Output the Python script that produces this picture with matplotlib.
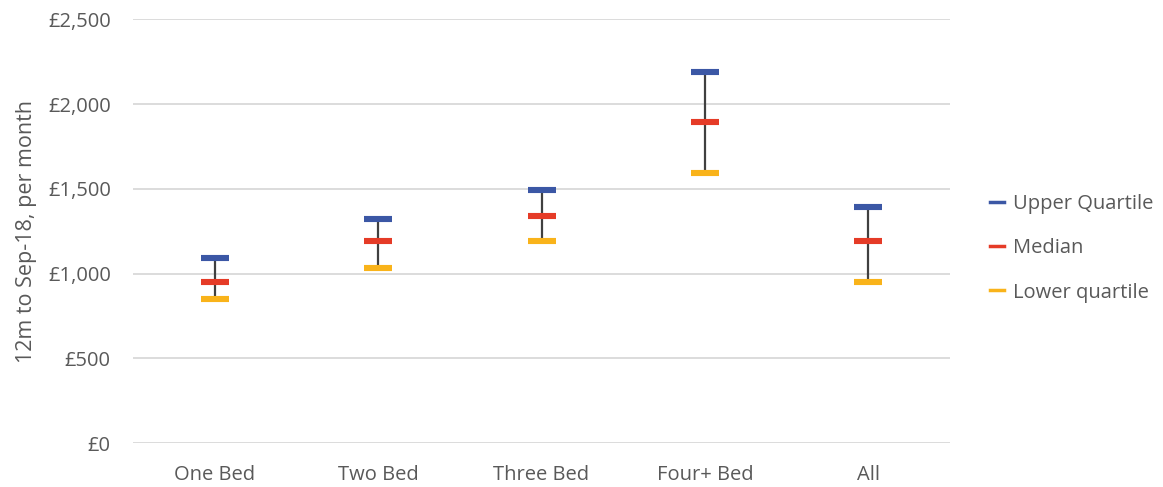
import matplotlib.pyplot as plt
from matplotlib.lines import Line2D
from matplotlib.ticker import FuncFormatter

categories = ['One Bed', 'Two Bed', 'Three Bed', 'Four+ Bed', 'All']
upper_quartile = [1095, 1320, 1495, 2190, 1395]
median = [948, 1195, 1342, 1895, 1190]
lower_quartile = [848, 1036, 1195, 1595, 950]

text_col = '#595959'
plt.rcParams['font.family'] = ['Open Sans', 'DejaVu Sans']

fig = plt.figure(figsize=(11.63, 4.87), dpi=100)
ax = fig.add_axes([0.1144, 0.0903, 0.7025, 0.8697])

x = list(range(len(categories)))

# whiskers from lower to upper quartile
ax.vlines(x, lower_quartile, upper_quartile, color='#404040', linewidth=1.6, zorder=2)

mk = dict(marker='_', markersize=19.5, markeredgewidth=4.4, linestyle='none', zorder=3)
ax.plot(x, upper_quartile, color='#3B57A5', **mk)
ax.plot(x, median, color='#E53B27', **mk)
ax.plot(x, lower_quartile, color='#F9B31A', **mk)

ax.set_xlim(-0.5, len(categories) - 0.5)
ax.set_ylim(0, 2500)
ax.set_yticks(range(0, 2501, 500))
ax.yaxis.set_major_formatter(FuncFormatter(lambda v, p: '£{:,.0f}'.format(v)))
ax.set_xticks(x)
ax.set_xticklabels(categories)
ax.grid(axis='y', color='#d9d9d9', linewidth=1.3, zorder=0)
ax.set_axisbelow(True)
for s in ax.spines.values():
    s.set_visible(False)
ax.tick_params(length=0, labelsize=14.5, colors=text_col)
ax.tick_params(axis='y', pad=16)
ax.tick_params(axis='x', pad=16)
ax.set_ylabel('12m to Sep-18, per month', fontsize=15.5, color=text_col, labelpad=8)

handles = [
    Line2D([0], [0], color='#3B57A5', linewidth=2.5),
    Line2D([0], [0], color='#E53B27', linewidth=2.5),
    Line2D([0], [0], color='#F9B31A', linewidth=2.5),
]
leg = fig.legend(handles, ['Upper Quartile', 'Median', 'Lower quartile'],
                 loc='center left', bbox_to_anchor=(0.836, 0.49), frameon=False,
                 fontsize=14.5, handlelength=0.7, handletextpad=0.4, labelspacing=1.2)
for t in leg.get_texts():
    t.set_color(text_col)

fig.savefig('out.png', dpi=100)
